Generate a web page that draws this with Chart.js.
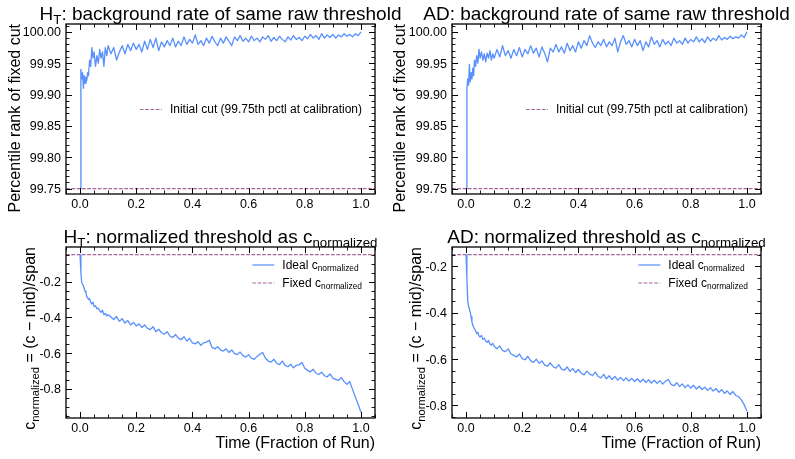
<!DOCTYPE html>
<html>
<head>
<meta charset="utf-8">
<script src="https://cdn.jsdelivr.net/npm/chart.js@4.4.1/dist/chart.umd.min.js"></script>
<style>
  html, body { margin: 0; padding: 0; background: #fff; }
  #wrap { position: relative; width: 795px; height: 459px; }
  #wrap canvas { position: absolute; left: 0; top: 0; }
</style>
</head>
<body>
<div id="wrap">
  <canvas id="ht-rank" width="795" height="459"></canvas>
  <canvas id="ad-rank" width="795" height="459"></canvas>
  <canvas id="ht-norm" width="795" height="459"></canvas>
  <canvas id="ad-norm" width="795" height="459"></canvas>
</div>
<script>
// time axis (fraction of run), denser at the start where the curves move fast
const timeFrac = [
  0, 0.003, 0.006, 0.009, 0.012, 0.015, 0.018, 0.021, 0.024, 0.027,
  0.03, 0.034, 0.038, 0.042, 0.046, 0.05, 0.055, 0.06, 0.065, 0.07,
  0.075, 0.08, 0.085, 0.09, 0.095, 0.1,
  0.11, 0.12, 0.13, 0.14, 0.15, 0.16, 0.17, 0.18, 0.19, 0.2,
  0.21, 0.22, 0.23, 0.24, 0.25, 0.26, 0.27, 0.28, 0.29, 0.3,
  0.31, 0.32, 0.33, 0.34, 0.35, 0.36, 0.37, 0.38, 0.39, 0.4,
  0.41, 0.42, 0.43, 0.44, 0.45, 0.46, 0.47, 0.48, 0.49, 0.5,
  0.51, 0.52, 0.53, 0.54, 0.55, 0.56, 0.57, 0.58, 0.59, 0.6,
  0.61, 0.62, 0.63, 0.64, 0.65, 0.66, 0.67, 0.68, 0.69, 0.7,
  0.71, 0.72, 0.73, 0.74, 0.75, 0.76, 0.77, 0.78, 0.79, 0.8,
  0.81, 0.82, 0.83, 0.84, 0.85, 0.86, 0.87, 0.88, 0.89, 0.9,
  0.91, 0.92, 0.93, 0.94, 0.95, 0.96, 0.97, 0.98, 0.99, 1.0
];

// percentile rank of the fixed cut, HT
const htRank = [
  99.750, 99.940, 99.925, 99.935, 99.910, 99.930, 99.918, 99.928, 99.922, 99.935,
  99.930, 99.955, 99.945, 99.975, 99.958, 99.968, 99.945, 99.962, 99.950, 99.972,
  99.958, 99.968, 99.945, 99.975, 99.962, 99.978,
  99.965, 99.975, 99.955, 99.968, 99.978, 99.965, 99.980, 99.970, 99.982, 99.972,
  99.980, 99.968, 99.985, 99.972, 99.988, 99.975, 99.990, 99.970, 99.984, 99.976,
  99.986, 99.978, 99.990, 99.976, 99.985, 99.978, 99.992, 99.980, 99.988, 99.982,
  99.995, 99.980, 99.986, 99.978, 99.990, 99.982, 99.993, 99.984, 99.978, 99.990,
  99.982, 99.992, 99.985, 99.978, 99.992, 99.986, 99.994, 99.985, 99.990, 99.984,
  99.993, 99.986, 99.990, 99.984, 99.992, 99.988, 99.994, 99.985, 99.991, 99.986,
  99.993, 99.988, 99.984, 99.992, 99.987, 99.994, 99.988, 99.991, 99.986, 99.993,
  99.989, 99.996, 99.990, 99.994, 99.988, 99.997, 99.990, 99.995, 99.991, 99.996,
  99.990, 99.995, 99.992, 99.997, 99.993, 99.996, 99.992, 99.997, 99.994, 100.000
];

// percentile rank of the fixed cut, AD
const adRank = [
  99.750, 99.910, 99.925, 99.915, 99.948, 99.920, 99.935, 99.925, 99.942, 99.930,
  99.955, 99.945, 99.962, 99.950, 99.972, 99.958, 99.968, 99.955, 99.965, 99.952,
  99.966, 99.958, 99.970, 99.955, 99.965, 99.958,
  99.972, 99.960, 99.978, 99.962, 99.970, 99.958, 99.972, 99.962, 99.975, 99.960,
  99.972, 99.965, 99.978, 99.966, 99.974, 99.960, 99.976, 99.966, 99.952, 99.974,
  99.968, 99.980, 99.968, 99.976, 99.966, 99.982, 99.970, 99.978, 99.968, 99.984,
  99.974, 99.986, 99.978, 99.994, 99.982, 99.975, 99.984, 99.978, 99.988, 99.976,
  99.984, 99.978, 99.990, 99.968, 99.984, 99.994, 99.980, 99.986, 99.976, 99.988,
  99.978, 99.986, 99.970, 99.984, 99.976, 99.992, 99.980, 99.986, 99.976, 99.988,
  99.980, 99.985, 99.978, 99.990, 99.982, 99.986, 99.980, 99.990, 99.982, 99.988,
  99.984, 99.992, 99.984, 99.989, 99.983, 99.992, 99.985, 99.990, 99.986, 99.994,
  99.987, 99.991, 99.988, 99.993, 99.989, 99.992, 99.990, 99.995, 99.991, 100.000
];

// ideal normalized threshold, HT
const htNorm = [
  -0.050, -0.150, -0.205, -0.215, -0.225, -0.240, -0.255, -0.262, -0.285, -0.290,
  -0.300, -0.295, -0.318, -0.325, -0.315, -0.340, -0.335, -0.352, -0.348, -0.362,
  -0.372, -0.360, -0.385, -0.378, -0.392, -0.385,
  -0.398, -0.412, -0.395, -0.422, -0.408, -0.432, -0.418, -0.442, -0.428, -0.448,
  -0.436, -0.456, -0.442, -0.462, -0.468, -0.452, -0.480, -0.466, -0.486, -0.494,
  -0.480, -0.504, -0.512, -0.496, -0.516, -0.524, -0.508, -0.532, -0.518, -0.542,
  -0.548, -0.536, -0.556, -0.542, -0.538, -0.528, -0.568, -0.576, -0.564, -0.582,
  -0.588, -0.576, -0.596, -0.582, -0.602, -0.608, -0.594, -0.614, -0.622, -0.608,
  -0.628, -0.634, -0.618, -0.606, -0.596, -0.628, -0.644, -0.650, -0.634, -0.656,
  -0.664, -0.644, -0.668, -0.676, -0.662, -0.682, -0.668, -0.664, -0.652, -0.684,
  -0.696, -0.704, -0.690, -0.712, -0.719, -0.706, -0.726, -0.732, -0.716, -0.739,
  -0.746, -0.752, -0.736, -0.759, -0.774, -0.758, -0.802, -0.845, -0.885, -0.930
];

// ideal normalized threshold, AD
const adNorm = [
  -0.150, -0.250, -0.350, -0.372, -0.385, -0.400, -0.418, -0.440, -0.455, -0.462,
  -0.470, -0.478, -0.490, -0.485, -0.500, -0.505, -0.498, -0.515, -0.510, -0.522,
  -0.528, -0.520, -0.535, -0.540, -0.532, -0.545,
  -0.556, -0.543, -0.564, -0.568, -0.556, -0.578, -0.584, -0.591, -0.578, -0.598,
  -0.603, -0.588, -0.608, -0.614, -0.600, -0.618, -0.608, -0.626, -0.631, -0.616,
  -0.633, -0.639, -0.624, -0.643, -0.648, -0.634, -0.653, -0.641, -0.658, -0.645,
  -0.661, -0.668, -0.652, -0.665, -0.671, -0.656, -0.675, -0.681, -0.666, -0.685,
  -0.672, -0.688, -0.675, -0.691, -0.679, -0.693, -0.681, -0.695, -0.683, -0.697,
  -0.685, -0.699, -0.687, -0.701, -0.689, -0.703, -0.691, -0.705, -0.693, -0.708,
  -0.695, -0.688, -0.709, -0.715, -0.702, -0.718, -0.707, -0.723, -0.711, -0.725,
  -0.713, -0.729, -0.717, -0.731, -0.721, -0.735, -0.723, -0.738, -0.727, -0.743,
  -0.732, -0.748, -0.737, -0.753, -0.740, -0.757, -0.762, -0.776, -0.796, -0.825
];

const initialCut = 99.75;
const htFixedNorm = -0.05;
const adFixedNorm = -0.15;

const xTickValues = [0, 0.2, 0.4, 0.6, 0.8, 1.0];
const xTickLabels = ['0.0', '0.2', '0.4', '0.6', '0.8', '1.0'];
const rankTickValues = [99.75, 99.80, 99.85, 99.90, 99.95, 100.00];
const rankTickLabels = ['99.75', '99.80', '99.85', '99.90', '99.95', '100.00'];
const normTickValues = [-0.8, -0.6, -0.4, -0.2];
const normTickLabels = ['-0.8', '-0.6', '-0.4', '-0.2'];

const W = 795, H = 459;
const X_MIN = -0.05, X_MAX = 1.05;
const BLUE = '#5790fc';
const PURPLE = 'rgba(150, 74, 139, 0.85)';
const FONT = '"Liberation Sans", Arial, sans-serif';
const MAJOR_LEN = 6, MINOR_LEN = 3.5;

// minor tick positions
const xMinor = [];
for (let k = -1; k <= 21; k++) if (k % 4 !== 0) xMinor.push(k * 0.05);
const rankMinor = [];
for (let k = 9974; k <= 10001; k++) if (k % 5 !== 0) rankMinor.push(k / 100);
const normMinor = [];
for (let k = -19; k <= 0; k++) if (k % 4 !== 0) normMinor.push(k * 0.05);

function font(size) {
    return size + 'px ' + FONT;
}

// parts: [[text, isSubscript], ...]
function drawRich(ctx, parts, x, y, size, align) {
    const subSize = size * 0.7;
    const widths = parts.map(([t, sub]) => {
        ctx.font = font(sub ? subSize : size);
        return ctx.measureText(t).width;
    });
    const total = widths.reduce((s, w) => s + w, 0);
    let cx = align === 'center' ? x - total / 2 : (align === 'right' ? x - total : x);
    ctx.textAlign = 'left';
    ctx.textBaseline = 'alphabetic';
    parts.forEach(([t, sub], i) => {
        ctx.font = font(sub ? subSize : size);
        ctx.fillText(t, cx, y + (sub ? size * 0.22 : 0));
        cx += widths[i];
    });
    return total;
}

function richWidth(ctx, parts, size) {
    let w = 0;
    parts.forEach(([t, sub]) => {
        ctx.font = font(sub ? size * 0.7 : size);
        w += ctx.measureText(t).width;
    });
    return w;
}

function makeDecor(p) {
    return {
        id: 'panelDecor',
        afterDatasetsDraw(chart) {
            const {ctx, chartArea: a, scales: {x, y}} = chart;
            ctx.save();
            ctx.strokeStyle = '#000';
            ctx.fillStyle = '#000';

            const vTicks = (vals, len) => {
                vals.forEach(v => {
                    if (v < X_MIN || v > X_MAX) return;
                    const px = Math.round(x.getPixelForValue(v)) + 0.5;
                    ctx.moveTo(px, a.bottom); ctx.lineTo(px, a.bottom - len);
                    ctx.moveTo(px, a.top); ctx.lineTo(px, a.top + len);
                });
            };
            const hTicks = (vals, len) => {
                vals.forEach(v => {
                    if (v < p.yMin || v > p.yMax) return;
                    const py = Math.round(y.getPixelForValue(v)) + 0.5;
                    ctx.moveTo(a.left, py); ctx.lineTo(a.left + len, py);
                    ctx.moveTo(a.right, py); ctx.lineTo(a.right - len, py);
                });
            };

            ctx.lineWidth = 0.9;
            ctx.beginPath();
            vTicks(xMinor, MINOR_LEN);
            hTicks(p.yMinor, MINOR_LEN);
            ctx.stroke();

            ctx.lineWidth = 1;
            ctx.beginPath();
            vTicks(xTickValues, MAJOR_LEN);
            hTicks(p.yTicks, MAJOR_LEN);
            ctx.stroke();

            ctx.lineWidth = 1.3;
            ctx.strokeRect(a.left, a.top, a.right - a.left, a.bottom - a.top);

            // tick labels
            ctx.font = font(12.5);
            ctx.textBaseline = 'alphabetic';
            ctx.textAlign = 'center';
            xTickValues.forEach((v, i) => {
                ctx.fillText(xTickLabels[i], x.getPixelForValue(v), a.bottom + 13.5);
            });
            ctx.textAlign = 'right';
            p.yTicks.forEach((v, i) => {
                ctx.fillText(p.yLabels[i], a.left - 5, y.getPixelForValue(v) + 4.5);
            });

            // title
            drawRich(ctx, p.title, (a.left + a.right) / 2, a.top - 4, 19, 'center');

            // y label, placed at the top of the axis
            ctx.save();
            ctx.translate(a.left - p.yLabelGap, a.top);
            ctx.rotate(-Math.PI / 2);
            drawRich(ctx, p.yTitle, 0, 0, 16, 'right');
            ctx.restore();

            // x label, placed at the right of the axis
            if (p.xTitle) {
                drawRich(ctx, p.xTitle, a.right, a.bottom + 30, 16, 'right');
            }

            // legend
            const maxW = Math.max(...p.legend.map(e => richWidth(ctx, e.parts, 12)));
            const textLeft = a.right - 13 - maxW;
            p.legend.forEach((e, i) => {
                const rowY = p.legendY(a) + i * 18;
                ctx.save();
                ctx.strokeStyle = e.color;
                ctx.lineWidth = 1.2;
                ctx.setLineDash(e.dash);
                ctx.beginPath();
                ctx.moveTo(textLeft - 30, rowY + 0.5);
                ctx.lineTo(textLeft - 8, rowY + 0.5);
                ctx.stroke();
                ctx.restore();
                drawRich(ctx, e.parts, textLeft, rowY + 4.3, 12, 'left');
            });

            ctx.restore();
        }
    };
}

function makePanel(canvasId, p) {
    return new Chart(document.getElementById(canvasId), {
        type: 'line',
        data: {
            datasets: [
                {
                    data: timeFrac.map((t, i) => ({x: t, y: p.series[i]})),
                    borderColor: BLUE,
                    borderWidth: 1.3,
                    borderJoinStyle: 'round',
                    pointRadius: 0,
                    tension: 0,
                    fill: false
                },
                {
                    data: [{x: X_MIN, y: p.fixed}, {x: X_MAX, y: p.fixed}],
                    borderColor: PURPLE,
                    borderWidth: 1.2,
                    borderDash: [3.7, 1.6],
                    pointRadius: 0,
                    fill: false
                }
            ]
        },
        options: {
            responsive: false,
            animation: false,
            devicePixelRatio: 1,
            layout: {padding: {left: p.area.l, top: p.area.t, right: W - p.area.r, bottom: H - p.area.b}},
            scales: {
                x: {type: 'linear', min: X_MIN, max: X_MAX, display: false},
                y: {type: 'linear', min: p.yMin, max: p.yMax, display: false}
            },
            plugins: {legend: {display: false}, tooltip: {enabled: false}}
        },
        plugins: [makeDecor(p)]
    });
}

const rankYTitle = [['Percentile rank of fixed cut', false]];
const normYTitle = [['c', false], ['normalized', true], [' = (c \u2212 mid)/span', false]];
const timeTitle = [['Time (Fraction of Run)', false]];
const rankLegend = [
    {color: PURPLE, dash: [3.7, 1.6], parts: [['Initial cut (99.75th pctl at calibration)', false]]}
];
const normLegend = [
    {color: BLUE, dash: [], parts: [['Ideal c', false], ['normalized', true]]},
    {color: PURPLE, dash: [3.7, 1.6], parts: [['Fixed c', false], ['normalized', true]]}
];

makePanel('ht-rank', {
    area: {l: 66, t: 24, r: 375, b: 194},
    series: htRank, fixed: initialCut,
    yMin: 99.7415, yMax: 100.0125,
    yTicks: rankTickValues, yLabels: rankTickLabels, yMinor: rankMinor,
    title: [['H', false], ['T', true], [': background rate of same raw threshold', false]],
    yTitle: rankYTitle, yLabelGap: 46, xTitle: null,
    legend: rankLegend, legendY: a => (a.top + a.bottom) / 2
});

makePanel('ad-rank', {
    area: {l: 452, t: 24, r: 761, b: 194},
    series: adRank, fixed: initialCut,
    yMin: 99.7415, yMax: 100.0125,
    yTicks: rankTickValues, yLabels: rankTickLabels, yMinor: rankMinor,
    title: [['AD: background rate of same raw threshold', false]],
    yTitle: rankYTitle, yLabelGap: 47, xTitle: null,
    legend: rankLegend, legendY: a => (a.top + a.bottom) / 2
});

makePanel('ht-norm', {
    area: {l: 66, t: 247, r: 375, b: 418},
    series: htNorm, fixed: htFixedNorm,
    yMin: -0.962, yMax: -0.007,
    yTicks: normTickValues, yLabels: normTickLabels, yMinor: normMinor,
    title: [['H', false], ['T', true], [': normalized threshold as c', false], ['normalized', true]],
    yTitle: normYTitle, yLabelGap: 31, xTitle: timeTitle,
    legend: normLegend, legendY: a => a.top + 17.5
});

makePanel('ad-norm', {
    area: {l: 452, t: 247, r: 761, b: 418},
    series: adNorm, fixed: adFixedNorm,
    yMin: -0.854, yMax: -0.117,
    yTicks: normTickValues, yLabels: normTickLabels, yMinor: normMinor,
    title: [['AD: normalized threshold as c', false], ['normalized', true]],
    yTitle: normYTitle, yLabelGap: 31, xTitle: timeTitle,
    legend: normLegend, legendY: a => a.top + 17.5
});
</script>
</body>
</html>
